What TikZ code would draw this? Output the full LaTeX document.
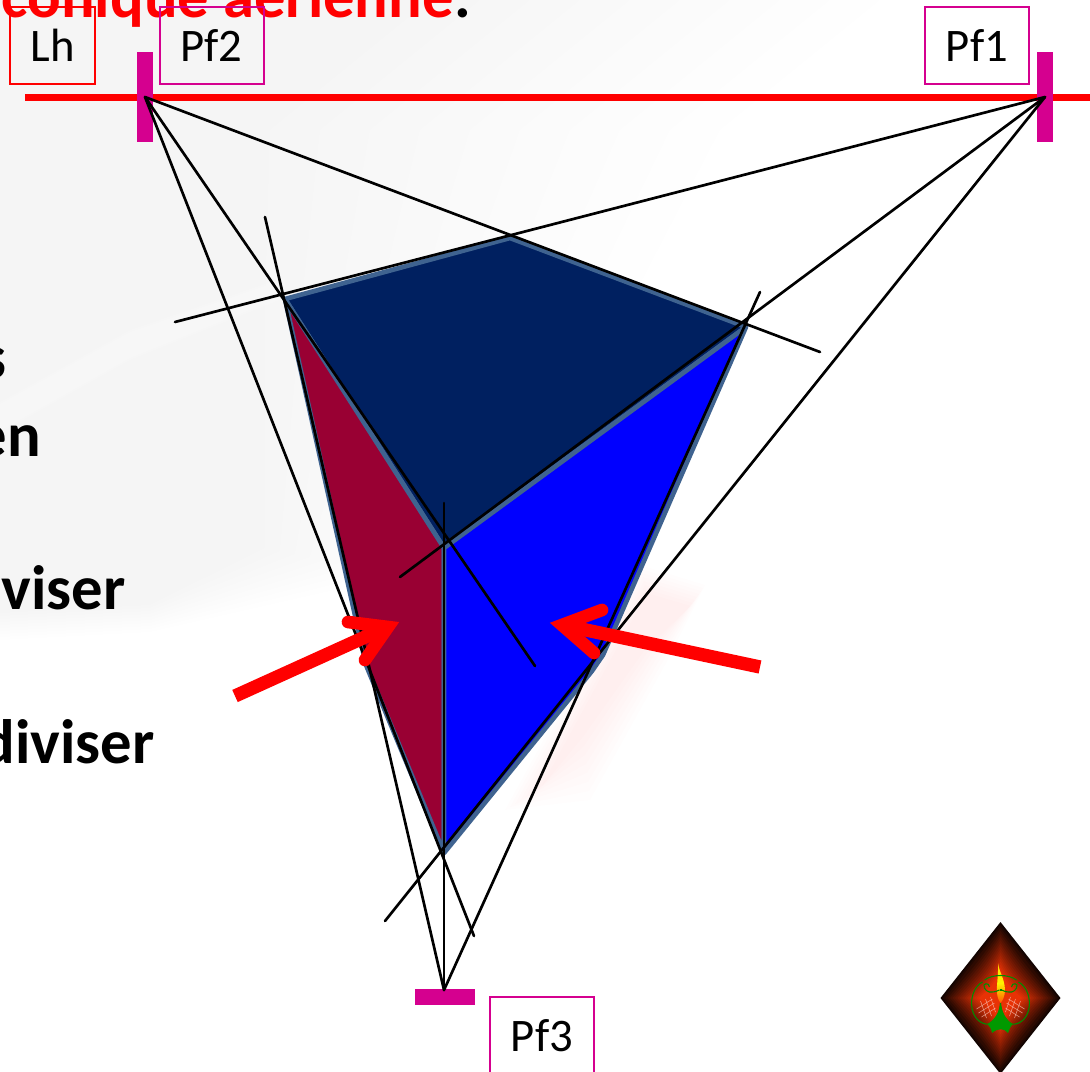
\documentclass[tikz,border=0pt]{standalone}
\usepackage{fontspec}
\setmainfont{Carlito}
\definecolor{pinkbar}{HTML}{D5008F}
\definecolor{navyface}{HTML}{002060}
\definecolor{wine}{HTML}{990033}
\definecolor{steel}{HTML}{3F6390}
\definecolor{logoglow}{HTML}{E83205}
\tikzset{
  persp/.style={draw=black,line width=2pt,line cap=round},
  face/.style={draw=steel,line width=3.5pt,line join=round},
  labelbox/.style={draw=#1,line width=1.5pt,minimum height=57.75pt,font=\fontsize{35pt}{36pt}\selectfont,text=black,inner sep=0pt},
  barfill/.style={fill=pinkbar,draw=none},
  clipped/.style={font=\bfseries\fontsize{47pt}{49pt}\selectfont,inner sep=0pt},
  redarrow/.style={draw=red,line width=10pt},
  barb/.style={draw=red,line width=9.5pt,line cap=round,line join=miter}
}
\begin{document}
\begin{tikzpicture}[x=0.75pt,y=-0.75pt]
\useasboundingbox (0,0) rectangle (1090,1072);
\clip (0,0) rectangle (1090,1072);
\fill[white] (0,0) rectangle (1090,1072);
% soft background
\foreach \g in {0,...,9}{
  \fill[black,opacity=.0045] (0,0) -- (880-50*\g,0) -- (720-50*\g,130) -- (580-35*\g,400-10*\g) -- (400-15*\g,575-3*\g) -- (150,632-3*\g) -- (0,640-3*\g) -- cycle;
}
\foreach \g in {0,...,4}{
  \fill[white,opacity=.12] (0,410-2*\g) -- (130,338-2*\g) -- (285,285-2*\g) -- (285,290+2*\g) -- (130,352+2*\g) -- (0,425+2*\g) -- cycle;
}
\foreach \g in {0,...,7}{
  \fill[red,opacity=.009] (640+\g,565+4*\g) -- (705-2*\g,585+3*\g) -- (665-3*\g,665-2*\g) -- (590-\g,800-9*\g) -- (505+5*\g,810-3*\g) -- cycle;
}
% clipped slide text
\node[clipped,anchor=base east,text=red] (title) at (454,17) {conique aérienne};
\node[clipped,anchor=base west,text=black] (titledot) at (title.base east) {.};
\node[clipped,anchor=base east] (t1) at (7,378) {s};
\node[clipped,anchor=base east] (t2) at (41,456) {en};
\node[clipped,anchor=base east] (t3) at (126,609) {viser};
\node[clipped,anchor=base east] (t4) at (155,763) {diviser};
% vanishing points
\coordinate (P2) at (145,97);
\coordinate (P1) at (1045,97);
\coordinate (P3) at (444,990);
% cube
\coordinate (A) at (285,299);
\coordinate (B) at (510,238);
\coordinate (C) at (746,327);
\coordinate (D) at (444,548);
\coordinate (E) at (444,853);
\coordinate (F) at (603,655);
\coordinate (H) at (592,671);
\coordinate (G) at (366,665);
% horizon
\coordinate (HL) at (25,97);
\coordinate (HR) at (1090,97);
\draw[red,line width=5.25pt] (HL) -- (HR);
% faces
\path[face,fill=navyface] (A) -- (B) -- (C) -- (D) -- cycle;
\path[face,fill=wine] (A) -- (D) -- (E) -- (G) -- cycle;
\path[face,fill=blue] (D) -- (C) -- (F) -- (H) -- (E) -- cycle;
% bars
\fill[barfill] (137,52) rectangle (153,142);
\fill[barfill] (1037,52) rectangle (1053,142);
\fill[barfill] (415,989) rectangle (475,1005);
% labels
\node[labelbox=red,minimum width=63.75pt] (Lh) at (52.5,45.5) {Lh};
\node[labelbox=pinkbar,minimum width=78pt] (Pf2) at (211.5,45.5) {Pf2};
\node[labelbox=pinkbar,minimum width=78pt] (Pf1) at (977,45.5) {Pf1};
\node[labelbox=pinkbar,minimum width=78pt] (Pf3) at (542,1035.5) {Pf3};
% construction lines
\coordinate (e1) at (820,352);
\coordinate (e2) at (535,666);
\coordinate (e3) at (474,936);
\coordinate (e4) at (175,322);
\coordinate (e5) at (400,577);
\coordinate (e6) at (385,921);
\coordinate (e7) at (265,217);
\coordinate (e8) at (444,503);
\coordinate (e9) at (760,292);
\draw[persp] (P2) -- (e1);
\draw[persp] (P2) -- (e2);
\draw[persp] (P2) -- (e3);
\draw[persp] (P1) -- (e4);
\draw[persp] (P1) -- (e5);
\draw[persp] (P1) -- (e6);
\draw[persp] (P3) -- (e7);
\draw[persp] (P3) -- (e8);
\draw[persp] (P3) -- (e9);
% red arrows
\coordinate (a1) at (235,696);
\coordinate (a1t) at (385,628);
\coordinate (a1u) at (348,622);
\coordinate (a1v) at (388,627);
\coordinate (a1w) at (365,660);
\draw[redarrow] (a1) -- (a1t);
\draw[barb] (a1u) -- (a1v) -- (a1w);
\coordinate (a2) at (760,667);
\coordinate (a2t) at (572,627);
\coordinate (a2u) at (602,610);
\coordinate (a2v) at (562,625);
\coordinate (a2w) at (594,653);
\draw[redarrow] (a2) -- (a2t);
\draw[barb] (a2u) -- (a2v) -- (a2w);
% logo
\begin{scope}[shift={(1000.5,998)}]
\foreach \r in {100,96,...,4}{
  \pgfmathsetmacro{\cm}{\r*(0.5-0.14*(1-\r/100))/100}
  \pgfmathsetmacro{\ax}{60*\r/100}
  \pgfmathsetmacro{\ay}{76*\r/100}
  \pgfmathsetmacro{\cx}{60*\cm}
  \pgfmathsetmacro{\cy}{76*\cm}
  \pgfmathsetmacro{\mixv}{min(100,(100-\r)*1.45+8)}
  \fill[logoglow!\mixv!black]
    (\ax,0) .. controls (\cx,\cy) .. (0,\ay) .. controls (-\cx,\cy) .. (-\ax,0)
    .. controls (-\cx,-\cy) .. (0,-\ay) .. controls (\cx,-\cy) .. cycle;
}
% flame
\shade[bottom color=orange!70!red,top color=yellow!70!orange,middle color=yellow!90!orange]
  (-2.5,-35) .. controls (-1,-25) and (4,-20) .. (4.5,-8) .. controls (4.5,-2) and (2,3) .. (0,5)
  .. controls (-3,1) and (-4,-4) .. (-3.5,-12) .. controls (-3,-20) and (-2,-28) .. (-2.5,-35) -- cycle;
% lamp
\begin{scope}[draw=green!55!black,line width=0.8pt]
\draw (-1,-8) .. controls (-10,-4) and (-14,-6) .. (-16,-10) .. controls (-19,-15) and (-11,-16) .. (-11,-11);
\draw (-16,-18) .. controls (-8,-24) and (8,-24) .. (16,-18);
\draw (-18,-16) .. controls (-33,-8) and (-33,22) .. (-15,26) .. controls (-6,28) and (-1,16) .. (0,5);
\draw (18,-16) .. controls (33,-8) and (33,22) .. (15,26) .. controls (6,28) and (1,16) .. (0,5);
\draw (1,-8) .. controls (10,-4) and (14,-6) .. (16,-10) .. controls (19,-15) and (11,-16) .. (11,-11);
\draw (-1,-8) -- (1,-8);
\end{scope}
\fill[green!60!black] (0,5) .. controls (1,14) and (6,22) .. (12,26) .. controls (10,28) and (9,31) .. (7.5,35)
  .. controls (4,30) and (-3,30) .. (-8.5,35) .. controls (-9,31) and (-11,28) .. (-13,26) .. controls (-6,22) and (-1,14) .. (0,5) -- cycle;
% hatch on bulbs
\begin{scope}[draw=white!70!logoglow,line width=.45pt,opacity=.7]
\draw (-24,11) -- (-8,1) (-22,15) -- (-6,5) (-19,19) -- (-5,10);
\draw (-20,3) -- (-14,20) (-15,1) -- (-9,18) (-10,-1) -- (-5,14);
\draw (24,11) -- (8,1) (22,15) -- (6,5) (19,19) -- (5,10);
\draw (20,3) -- (14,20) (15,1) -- (9,18) (10,-1) -- (5,14);
\end{scope}
\end{scope}
\end{tikzpicture}
\end{document}
